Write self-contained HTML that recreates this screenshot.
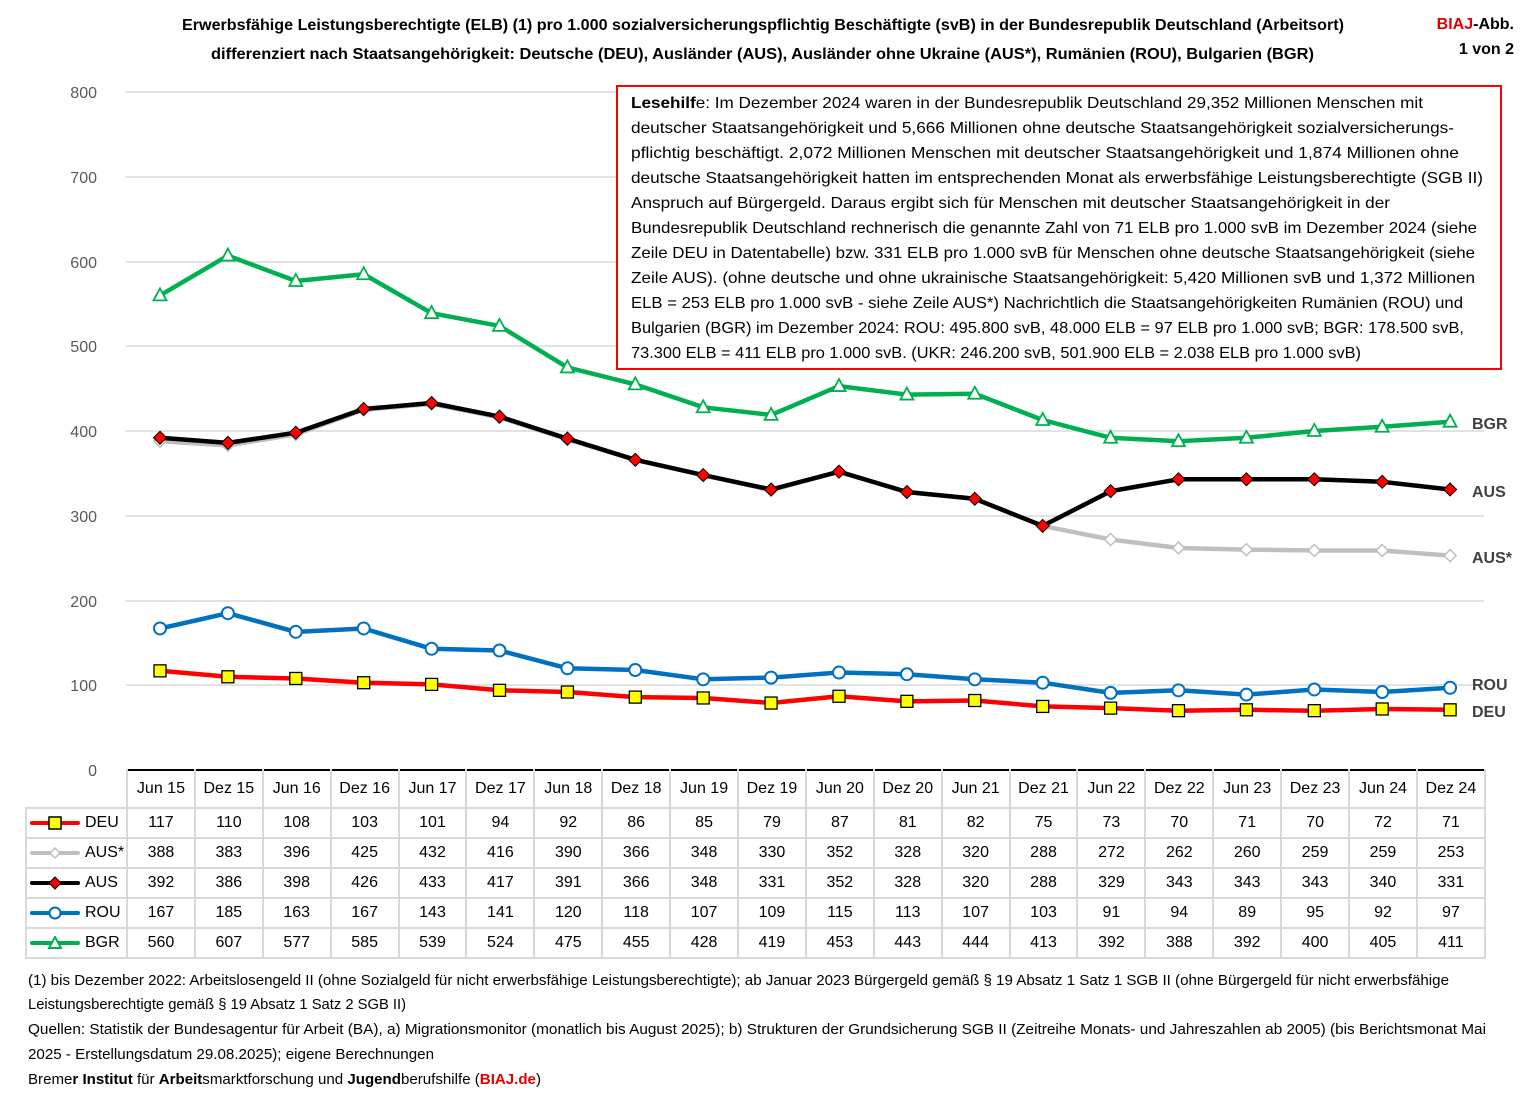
<!DOCTYPE html>
<html><head><meta charset="utf-8">
<style>
body{margin:0;width:1530px;height:1097px;background:#fff;position:relative;overflow:hidden;font-family:"Liberation Sans",sans-serif;}
svg{position:absolute;left:0;top:0}
table{position:absolute;left:25px;top:769px;width:1459px;border-collapse:collapse;table-layout:fixed;font-size:16px;color:#000}
td{border:2px solid #d9d9d9;text-align:center;padding:0;height:28px}
tr.h td{height:36px}
td.l{text-align:left;padding-left:0;white-space:nowrap}
td.e{border:none;border-right:2px solid #d9d9d9}
tr.h td:not(.e){border-top:2px solid #000}
.lg{display:inline-block;vertical-align:middle;width:52px;height:14px;position:relative;margin:0 4px 0 2px}
</style></head><body>
<svg width="1530" height="1097" viewBox="0 0 1530 1097" font-family="Liberation Sans, sans-serif">
<g font-weight="bold" font-size="16" fill="#000">
<text x="182" y="30" textLength="1162" lengthAdjust="spacingAndGlyphs">Erwerbsfähige Leistungsberechtigte (ELB) (1) pro 1.000 sozialversicherungspflichtig Beschäftigte (svB) in der Bundesrepublik Deutschland (Arbeitsort)</text>
<text x="211" y="59" textLength="1103" lengthAdjust="spacingAndGlyphs">differenziert nach Staatsangehörigkeit: Deutsche (DEU),  Ausländer (AUS),  Ausländer ohne Ukraine (AUS*), Rumänien (ROU), Bulgarien (BGR)</text>
<text x="1514" y="29" text-anchor="end"><tspan fill="#e00000">BIAJ</tspan>-Abb.</text>
<text x="1514" y="54" text-anchor="end">1 von 2</text>
</g>
<g stroke="#d9d9d9" stroke-width="1.5">
<line x1="126" x2="1484" y1="92" y2="92"/><line x1="126" x2="1484" y1="177" y2="177"/>
<line x1="126" x2="1484" y1="262" y2="262"/><line x1="126" x2="1484" y1="346" y2="346"/>
<line x1="126" x2="1484" y1="431" y2="431"/><line x1="126" x2="1484" y1="516" y2="516"/>
<line x1="126" x2="1484" y1="601" y2="601"/><line x1="126" x2="1484" y1="685" y2="685"/>
</g>
<g font-size="16" fill="#595959" text-anchor="end">
<text x="97" y="98">800</text><text x="97" y="183">700</text><text x="97" y="268">600</text><text x="97" y="352">500</text>
<text x="97" y="437">400</text><text x="97" y="522">300</text><text x="97" y="607">200</text><text x="97" y="691">100</text><text x="97" y="776">0</text>
</g>
<g id="series"></g>
<g font-size="16" font-weight="bold" fill="#404040">
<text x="1472" y="429">BGR</text><text x="1472" y="497">AUS</text><text x="1472" y="563">AUS*</text>
<text x="1472" y="690">ROU</text><text x="1472" y="717">DEU</text>
</g>
<rect x="617" y="86" width="884" height="283" fill="#fff" stroke="#ff0000" stroke-width="2"/>
<g font-size="16" fill="#000">
<text x="631" y="108" textLength="792" lengthAdjust="spacingAndGlyphs"><tspan font-weight="bold">Lesehilf</tspan>e: Im Dezember 2024 waren in der Bundesrepublik Deutschland 29,352 Millionen Menschen mit</text>
<text x="631" y="133" textLength="823" lengthAdjust="spacingAndGlyphs">deutscher Staatsangehörigkeit und 5,666 Millionen ohne deutsche Staatsangehörigkeit sozialversicherungs-</text>
<text x="631" y="158" textLength="828" lengthAdjust="spacingAndGlyphs">pflichtig beschäftigt. 2,072 Millionen Menschen mit deutscher Staatsangehörigkeit und 1,874 Millionen ohne</text>
<text x="631" y="183" textLength="852" lengthAdjust="spacingAndGlyphs">deutsche Staatsangehörigkeit hatten im entsprechenden Monat als erwerbsfähige Leistungsberechtigte (SGB II)</text>
<text x="631" y="208" textLength="759" lengthAdjust="spacingAndGlyphs">Anspruch auf Bürgergeld. Daraus ergibt sich für Menschen mit deutscher Staatsangehörigkeit in der</text>
<text x="631" y="233" textLength="846" lengthAdjust="spacingAndGlyphs">Bundesrepublik Deutschland rechnerisch die genannte Zahl von 71 ELB pro 1.000 svB im Dezember 2024 (siehe</text>
<text x="631" y="258" textLength="844" lengthAdjust="spacingAndGlyphs">Zeile DEU in Datentabelle) bzw. 331 ELB pro 1.000 svB für Menschen ohne deutsche Staatsangehörigkeit (siehe</text>
<text x="631" y="283" textLength="844" lengthAdjust="spacingAndGlyphs">Zeile AUS). (ohne deutsche und ohne ukrainische Staatsangehörigkeit: 5,420 Millionen svB und 1,372 Millionen</text>
<text x="631" y="308" textLength="832" lengthAdjust="spacingAndGlyphs">ELB = 253 ELB pro 1.000 svB - siehe Zeile AUS*) Nachrichtlich die Staatsangehörigkeiten Rumänien (ROU) und</text>
<text x="631" y="333" textLength="833" lengthAdjust="spacingAndGlyphs">Bulgarien (BGR) im Dezember 2024: ROU: 495.800 svB, 48.000 ELB = 97 ELB pro 1.000 svB; BGR: 178.500 svB,</text>
<text x="631" y="358" textLength="730" lengthAdjust="spacingAndGlyphs">73.300 ELB = 411 ELB pro 1.000 svB. (UKR: 246.200 svB,  501.900 ELB = 2.038 ELB pro 1.000 svB)</text>
</g>
<g font-size="15" fill="#000">
<text x="28" y="985" textLength="1421" lengthAdjust="spacingAndGlyphs">(1) bis Dezember 2022: Arbeitslosengeld II (ohne Sozialgeld für nicht erwerbsfähige Leistungsberechtigte); ab Januar 2023  Bürgergeld gemäß § 19 Absatz 1 Satz 1 SGB II (ohne Bürgergeld für nicht erwerbsfähige</text>
<text x="28" y="1009" textLength="378" lengthAdjust="spacingAndGlyphs">Leistungsberechtigte gemäß § 19 Absatz 1 Satz 2 SGB II)</text>
<text x="28" y="1034" textLength="1458" lengthAdjust="spacingAndGlyphs">Quellen: Statistik der Bundesagentur für Arbeit (BA),  a) Migrationsmonitor (monatlich bis August 2025); b) Strukturen der Grundsicherung SGB II (Zeitreihe Monats- und Jahreszahlen ab 2005) (bis Berichtsmonat Mai</text>
<text x="28" y="1059" textLength="406" lengthAdjust="spacingAndGlyphs">2025 - Erstellungsdatum 29.08.2025); eigene Berechnungen</text>
<text x="28" y="1084" textLength="513" lengthAdjust="spacingAndGlyphs">Breme<tspan font-weight="bold">r Institut</tspan> für <tspan font-weight="bold">Arbeit</tspan>smarktforschung und <tspan font-weight="bold">Jugend</tspan>berufshilfe (<tspan font-weight="bold" fill="#e00000">BIAJ.de</tspan>)</text>
</g>
</svg>
<table>
<colgroup><col style="width:101px"><col span="20" style="width:67.9px"></colgroup>
<tr class="h"><td class="l e"></td><td>Jun 15</td><td>Dez 15</td><td>Jun 16</td><td>Dez 16</td><td>Jun 17</td><td>Dez 17</td><td>Jun 18</td><td>Dez 18</td><td>Jun 19</td><td>Dez 19</td><td>Jun 20</td><td>Dez 20</td><td>Jun 21</td><td>Dez 21</td><td>Jun 22</td><td>Dez 22</td><td>Jun 23</td><td>Dez 23</td><td>Jun 24</td><td>Dez 24</td></tr>
<tr><td class="l"><svg class="lg" style="position:relative" width="52" height="14"><line x1="3" y1="7" x2="49" y2="7" stroke="#ff0000" stroke-width="4" stroke-linecap="round"/><rect x="20" y="1" width="12" height="12" fill="#ffff00" stroke="#000" stroke-width="1.5"/></svg>DEU</td><td>117</td><td>110</td><td>108</td><td>103</td><td>101</td><td>94</td><td>92</td><td>86</td><td>85</td><td>79</td><td>87</td><td>81</td><td>82</td><td>75</td><td>73</td><td>70</td><td>71</td><td>70</td><td>72</td><td>71</td></tr>
<tr><td class="l"><svg class="lg" style="position:relative" width="52" height="14"><line x1="3" y1="7" x2="49" y2="7" stroke="#bfbfbf" stroke-width="4" stroke-linecap="round"/><path d="M26 2 L31 7 L26 12 L21 7Z" fill="#fff" stroke="#bfbfbf" stroke-width="1.5"/></svg>AUS*</td><td>388</td><td>383</td><td>396</td><td>425</td><td>432</td><td>416</td><td>390</td><td>366</td><td>348</td><td>330</td><td>352</td><td>328</td><td>320</td><td>288</td><td>272</td><td>262</td><td>260</td><td>259</td><td>259</td><td>253</td></tr>
<tr><td class="l"><svg class="lg" style="position:relative" width="52" height="14"><line x1="3" y1="7" x2="49" y2="7" stroke="#000" stroke-width="4" stroke-linecap="round"/><path d="M26 1 L32 7 L26 13 L20 7Z" fill="#ff0000" stroke="#000" stroke-width="1"/></svg>AUS</td><td>392</td><td>386</td><td>398</td><td>426</td><td>433</td><td>417</td><td>391</td><td>366</td><td>348</td><td>331</td><td>352</td><td>328</td><td>320</td><td>288</td><td>329</td><td>343</td><td>343</td><td>343</td><td>340</td><td>331</td></tr>
<tr><td class="l"><svg class="lg" style="position:relative" width="52" height="14"><line x1="3" y1="7" x2="49" y2="7" stroke="#0070c0" stroke-width="4" stroke-linecap="round"/><circle cx="26" cy="7" r="5.5" fill="#fff" stroke="#0070c0" stroke-width="2"/></svg>ROU</td><td>167</td><td>185</td><td>163</td><td>167</td><td>143</td><td>141</td><td>120</td><td>118</td><td>107</td><td>109</td><td>115</td><td>113</td><td>107</td><td>103</td><td>91</td><td>94</td><td>89</td><td>95</td><td>92</td><td>97</td></tr>
<tr><td class="l"><svg class="lg" style="position:relative" width="52" height="14"><line x1="3" y1="7" x2="49" y2="7" stroke="#00b050" stroke-width="4" stroke-linecap="round"/><path d="M26 1 L32 12 L20 12Z" fill="#fff" stroke="#00b050" stroke-width="2"/></svg>BGR</td><td>560</td><td>607</td><td>577</td><td>585</td><td>539</td><td>524</td><td>475</td><td>455</td><td>428</td><td>419</td><td>453</td><td>443</td><td>444</td><td>413</td><td>392</td><td>388</td><td>392</td><td>400</td><td>405</td><td>411</td></tr>
</table>
<script>
var S=[
 ["#bfbfbf","dia",[388,383,396,425,432,416,390,366,348,330,352,328,320,288,272,262,260,259,259,253]],
 ["#000","adia",[392,386,398,426,433,417,391,366,348,331,352,328,320,288,329,343,343,343,340,331]],
 ["#0070c0","circ",[167,185,163,167,143,141,120,118,107,109,115,113,107,103,91,94,89,95,92,97]],
 ["#ff0000","sq",[117,110,108,103,101,94,92,86,85,79,87,81,82,75,73,70,71,70,72,71]],
 ["#00b050","tri",[560,607,577,585,539,524,475,455,428,419,453,443,444,413,392,388,392,400,405,411]]];
var h="";
S.forEach(function(s){var pts=s[2].map(function(v,i){return [160+i*67.9,770-v*0.8475]});
 h+='<polyline fill="none" stroke="'+s[0]+'" stroke-width="4.5" stroke-linejoin="round" points="'+pts.map(function(p){return p[0].toFixed(1)+","+p[1].toFixed(1)}).join(" ")+'"/>';
 pts.forEach(function(p){var x=p[0],y=p[1];
  if(s[1]=="dia")h+='<path d="M'+x+' '+(y-6)+' L'+(x+6)+' '+y+' L'+x+' '+(y+6)+' L'+(x-6)+' '+y+'Z" fill="#fff" stroke="#bfbfbf" stroke-width="1.5"/>';
  if(s[1]=="adia")h+='<path d="M'+x+' '+(y-6.5)+' L'+(x+6.5)+' '+y+' L'+x+' '+(y+6.5)+' L'+(x-6.5)+' '+y+'Z" fill="#ff0000" stroke="#000" stroke-width="1"/>';
  if(s[1]=="circ")h+='<circle cx="'+x+'" cy="'+y+'" r="6" fill="#fff" stroke="#0070c0" stroke-width="2"/>';
  if(s[1]=="sq")h+='<rect x="'+(x-6)+'" y="'+(y-6)+'" width="12" height="12" fill="#ffff00" stroke="#000" stroke-width="1.3"/>';
  if(s[1]=="tri")h+='<path d="M'+x+' '+(y-7)+' L'+(x+6.5)+' '+(y+5)+' L'+(x-6.5)+' '+(y+5)+'Z" fill="#fff" stroke="#00b050" stroke-width="1.8"/>';
 });});
document.getElementById("series").innerHTML=h;
</script>
</body></html>
